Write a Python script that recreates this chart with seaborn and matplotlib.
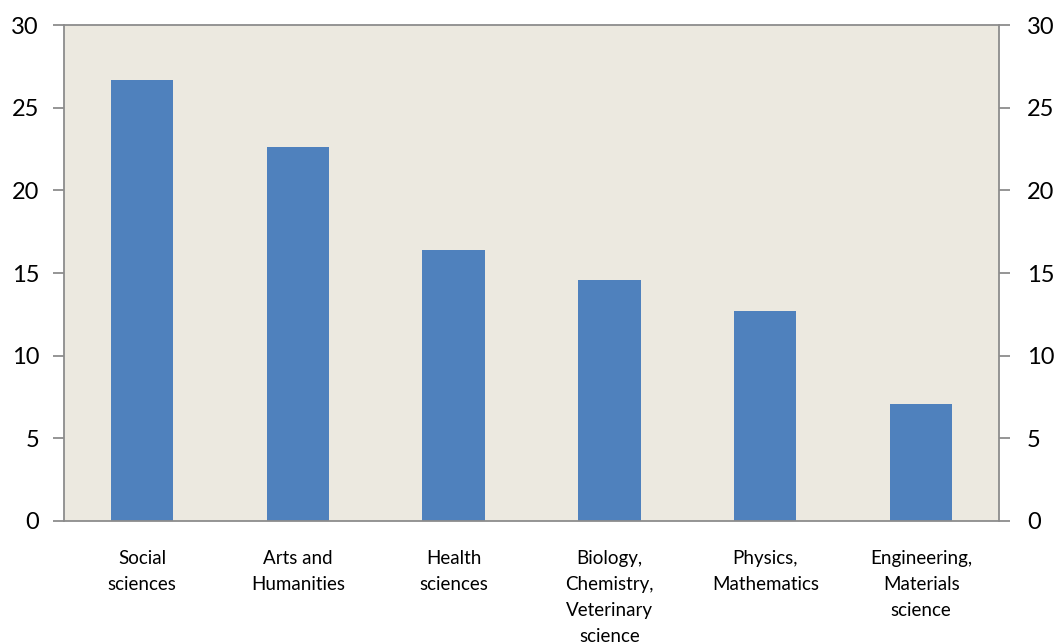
import matplotlib
matplotlib.use("Agg")
import matplotlib.pyplot as plt
import seaborn as sns
import pandas as pd
import numpy as np

categories = [
    "Social\nsciences",
    "Arts and\nHumanities",
    "Health\nsciences",
    "Biology,\nChemistry,\nVeterinary\nscience",
    "Physics,\nMathematics",
    "Engineering,\nMaterials\nscience",
]
values = [26.7, 22.6, 16.4, 14.6, 12.7, 7.1]
y_ticks = [0, 5, 10, 15, 20, 25, 30]

sns.set_theme(style="white")
plt.rcParams["font.family"] = ["Lato", "DejaVu Sans"]

df = pd.DataFrame({"field": categories, "share": values})

fig = plt.figure(figsize=(10.55, 6.44), dpi=100)
ax = fig.add_axes([0.0607, 0.191, 0.8863, 0.770])
ax.set_facecolor("#ECE9E0")

sns.barplot(data=df, x="field", y="share", color="#4F81BD", width=0.4,
            saturation=1, linewidth=0, edgecolor="none", ax=ax)

ax.set_ylim(0, 30)
ax.set_xlim(-0.5, len(categories) - 0.5)
ax.set_yticks(y_ticks)
ax.set_xlabel("")
ax.set_ylabel("")

spine_color = "#8C8C8C"
for s in ax.spines.values():
    s.set_visible(True)
    s.set_color(spine_color)
    s.set_linewidth(1.3)

# category labels centred under bars, tick marks on boundaries
ax.tick_params(axis="x", which="major", length=0, pad=21, labelsize=13.5,
               labelcolor="#000000")
ax.set_xticks(np.arange(-0.5, len(categories), 1.0), minor=True)
ax.tick_params(axis="x", which="minor", direction="out", length=7,
               width=1.3, color=spine_color)
ax.tick_params(axis="y", direction="out", length=8, width=1.3,
               color=spine_color, labelsize=17, pad=10, left=True,
               labelcolor="#000000")
for lab in ax.get_xticklabels():
    lab.set_linespacing(1.63)

# mirrored value axis on the right
ax2 = ax.twinx()
ax2.set_ylim(0, 30)
ax2.set_yticks(y_ticks)
ax2.tick_params(axis="y", direction="out", length=8, width=1.3,
                color=spine_color, labelsize=17, pad=12, right=True,
                labelcolor="#000000")
for s in ax2.spines.values():
    s.set_visible(False)
ax2.grid(False)
ax.grid(False)

fig.savefig("out.png", dpi=100, facecolor="white")
